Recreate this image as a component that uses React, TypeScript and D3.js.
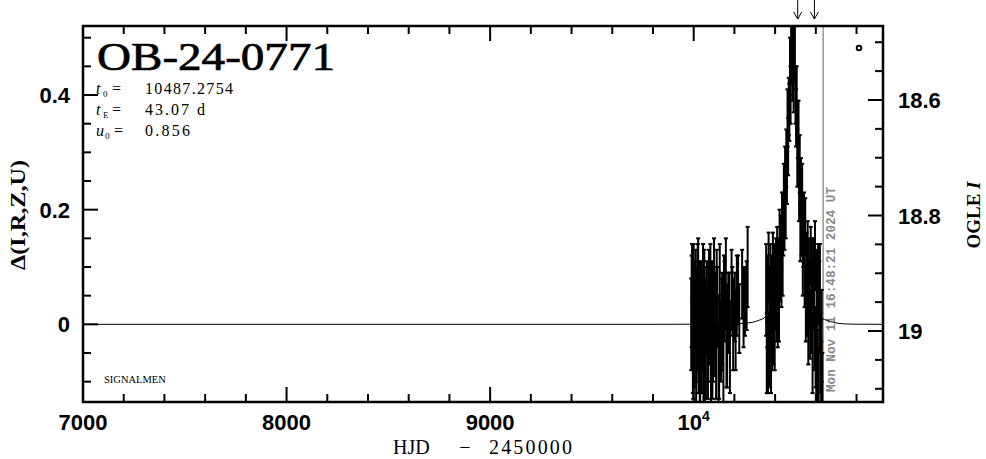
import React from 'react';
import * as d3 from 'd3';

const W = 986;
const H = 459;
const M = { left: 83, right: 883, top: 26, bottom: 402 };

const xDomain = [7000, 10930];
const deltaDomain = [-0.1355, 0.5204];
const magDomain = [19.1229, 18.4719];

const xMajorTicks = [7000, 8000, 9000, 10000];
const xMajorLabels = ['7000', '8000', '9000', '10^4'];
const deltaMajorTicks = [0, 0.2, 0.4];
const deltaMajorLabels = ['0', '0.2', '0.4'];
const magMajorTicks = [18.6, 18.8, 19.0];
const magMajorLabels = ['18.6', '18.8', '19'];

const eventName = 'OB-24-0771';
const t0Value = '10487.2754';
const tEValue = '43.07 d';
const u0Value = '0.856';
const markerTimes = [10511, 10593];
const nowTime = 10636;
const nowLabel = 'Mon Nov 11 16:48:21 2024 UT';

// observations: time (HJD-2450000), delta, error
const obsTime = [
  9988, 9992, 9996, 10000, 10004, 10008, 10012, 10016, 10020, 10024, 10028, 10032, 10036, 10040,
  10044, 10048, 10052, 10056, 10060, 10065, 10070, 10075, 10080, 10085, 10090, 10095, 10100, 10105,
  10110, 10116, 10122, 10128, 10134, 10140, 10146, 10152, 10158, 10164, 10170, 10178, 10186, 10194,
  10202, 10212, 10224, 10238, 10252, 10265,
  9990, 9998, 10002, 10010, 10014, 10022, 10030, 10038, 10046, 10054, 10062, 10072, 10082, 10092,
  10102, 10113, 10125, 10137, 10149, 10161, 10174, 10190, 10206, 10218, 10245, 10260,
  10356, 10359, 10362, 10365, 10368, 10371, 10374, 10377, 10380, 10383, 10386, 10389, 10392, 10395,
  10398, 10401, 10404, 10407, 10410, 10413, 10416, 10419, 10422, 10425, 10428, 10431, 10434, 10437,
  10440, 10443, 10446, 10449, 10452, 10455, 10458, 10461, 10464, 10467, 10470, 10473, 10476, 10479,
  10482, 10485, 10488, 10491, 10494, 10497, 10500, 10503, 10506, 10509, 10512, 10515, 10518, 10521,
  10524, 10527, 10530, 10533, 10536, 10539, 10542, 10545, 10548, 10551, 10554, 10557, 10560, 10563,
  10566, 10569, 10572, 10575, 10578, 10581, 10584, 10587, 10590, 10593, 10596, 10599, 10602, 10605,
  10608, 10611, 10614, 10617, 10620, 10623, 10626, 10629, 10632,
];
const obsDelta = [
  0.0, 0.05, -0.04, 0.07, -0.02, 0.03, -0.07, 0.01, 0.06, -0.05, 0.02, -0.08, 0.04, -0.03,
  0.0, -0.09, 0.05, -0.01, -0.06, 0.03, -0.04, 0.06, 0.01, -0.07, 0.04, -0.02, 0.08, 0.0,
  -0.05, 0.03, -0.08, 0.05, -0.03, 0.01, -0.06, 0.04, 0.07, -0.02, 0.02, -0.04, 0.06, 0.0,
  0.03, 0.05, 0.01, 0.07, 0.04, 0.1,
  0.04, -0.06, 0.02, 0.05, -0.03, 0.07, -0.05, 0.01, 0.06, -0.07, 0.03, -0.02, 0.05, -0.06,
  0.02, 0.06, -0.04, 0.0, 0.05, -0.03, 0.02, 0.04, -0.01, 0.06, 0.03, 0.05,
  0.06, -0.05, 0.04, -0.05, 0.1, -0.03, 0.03, 0.08, -0.05, 0.06, -0.01, 0.1, 0.0, 0.08,
  -0.02, 0.05, 0.1, 0.03, 0.12, 0.02, 0.1, 0.03, 0.15, 0.09, 0.14, 0.08, 0.18, 0.1,
  0.17, 0.23, 0.18, 0.26, 0.2, 0.29, 0.26, 0.36, 0.31, 0.38, 0.37, 0.45, 0.4, 0.48,
  0.47, 0.45, 0.5, 0.43, 0.47, 0.48, 0.4, 0.36, 0.4, 0.29, 0.34, 0.34, 0.23, 0.28,
  0.16, 0.24, 0.17, 0.23, 0.1, 0.15, 0.18, 0.08, 0.17, 0.03, 0.11, 0.04, 0.13, -0.01,
  0.09, 0.05, 0.0, 0.12, 0.01, 0.09, -0.05, 0.05, 0.09, -0.01, 0.12, -0.04, -0.07, 0.06,
  -0.08, 0.07, -0.1, 0.03, 0.05, -0.05, -0.09, -0.02, -0.1,
];
const obsErr = [
  0.08, 0.09, 0.08, 0.07, 0.09, 0.08, 0.07, 0.09, 0.08, 0.07, 0.09, 0.08, 0.07, 0.09,
  0.08, 0.07, 0.08, 0.09, 0.07, 0.08, 0.09, 0.07, 0.08, 0.09, 0.07, 0.08, 0.07, 0.09,
  0.08, 0.07, 0.08, 0.09, 0.07, 0.08, 0.09, 0.07, 0.08, 0.09, 0.07, 0.08, 0.07, 0.08,
  0.06, 0.07, 0.06, 0.06, 0.06, 0.07,
  0.08, 0.07, 0.09, 0.08, 0.07, 0.08, 0.09, 0.07, 0.08, 0.09, 0.07, 0.08, 0.09, 0.07,
  0.08, 0.07, 0.09, 0.08, 0.07, 0.08, 0.07, 0.06, 0.07, 0.06, 0.07, 0.06,
  0.08, 0.07, 0.08, 0.07, 0.06, 0.08, 0.07, 0.06, 0.07, 0.06, 0.07, 0.06, 0.07, 0.06,
  0.06, 0.06, 0.05, 0.06, 0.05, 0.06, 0.05, 0.06, 0.05, 0.05, 0.05, 0.05, 0.05, 0.05,
  0.05, 0.05, 0.05, 0.05, 0.05, 0.05, 0.05, 0.05, 0.05, 0.05, 0.05, 0.05, 0.05, 0.05,
  0.05, 0.06, 0.05, 0.06, 0.05, 0.05, 0.05, 0.05, 0.05, 0.05, 0.05, 0.05, 0.05, 0.05,
  0.05, 0.05, 0.05, 0.05, 0.05, 0.05, 0.05, 0.05, 0.05, 0.06, 0.05, 0.06, 0.05, 0.06,
  0.06, 0.06, 0.06, 0.05, 0.06, 0.06, 0.07, 0.06, 0.06, 0.07, 0.06, 0.07, 0.07, 0.07,
  0.07, 0.07, 0.06, 0.08, 0.09, 0.07, 0.06, 0.08, 0.05,
];

// model curve
const modelTime = [
  7000, 9800, 10100, 10187, 10237, 10287, 10317, 10347, 10367, 10377, 10387, 10397, 10407, 10412,
  10417, 10427, 10432, 10437, 10442, 10447, 10452, 10457, 10462, 10467, 10472, 10477, 10482, 10487.3,
  10492, 10497, 10502, 10507, 10512, 10517, 10522, 10527, 10532, 10537, 10542, 10547, 10557, 10562,
  10567, 10577, 10587, 10597, 10607, 10627, 10657, 10687, 10737, 10787, 10930,
];
const modelDelta = [
  0, 0, 0.0003, 0.0008, 0.0017, 0.0034, 0.0066, 0.0115, 0.019, 0.024, 0.032, 0.042, 0.055, 0.066,
  0.077, 0.106, 0.125, 0.147, 0.173, 0.203, 0.238, 0.277, 0.318, 0.361, 0.401, 0.436, 0.459, 0.468,
  0.459, 0.436, 0.401, 0.361, 0.318, 0.277, 0.238, 0.203, 0.173, 0.147, 0.125, 0.106, 0.077, 0.066,
  0.055, 0.042, 0.032, 0.024, 0.019, 0.0115, 0.0066, 0.0034, 0.0008, 0.0003, 0,
];

const SERIF = "'Liberation Serif', 'DejaVu Serif', serif";
const SANS = "'Liberation Sans', Arial, sans-serif";

export default function App() {
  const x = d3.scaleLinear().domain(xDomain).range([M.left, M.right]);
  const yD = d3.scaleLinear().domain(deltaDomain).range([M.bottom, M.top]);
  const yM = d3.scaleLinear().domain(magDomain).range([M.bottom, M.top]);

  const xMinor = d3.range(7000, 10930, 200).filter((v) => !xMajorTicks.includes(v));
  const dMinor = d3
    .range(-2, 11)
    .filter((i) => i % 4 !== 0)
    .map((i) => i * 0.05);
  const mMinor = d3
    .range(0, 14)
    .filter((i) => i % 4 !== 2)
    .map((i) => 18.5 + i * 0.05)
    .filter((v) => v > magDomain[1] && v < magDomain[0]);

  const modelLine = d3
    .line<number>()
    .x((_, i) => x(modelTime[i]))
    .y((d) => yD(d))
    .curve(d3.curveMonotoneX);

  const majorLen = 15;
  const minorLen = 8;
  const tickW = 2;

  return (
    <svg
      width={W}
      height={H}
      viewBox={`0 0 ${W} ${H}`}
      style={{ position: 'absolute', left: 0, top: 0, background: '#fff' }}
    >
      <rect x={0} y={0} width={W} height={H} fill="#fff" />
      <defs>
        <clipPath id="plotClip">
          <rect x={M.left} y={M.top} width={M.right - M.left} height={M.bottom - M.top} />
        </clipPath>
      </defs>

      {/* now line */}
      <line x1={x(nowTime)} x2={x(nowTime)} y1={M.top} y2={M.bottom} stroke="#888" strokeWidth={1.3} />
      <text
        transform={`translate(${x(nowTime) + 12},${M.bottom - 10}) rotate(-90)`}
        fontFamily="'Liberation Mono', 'DejaVu Sans Mono', monospace"
        fontWeight="bold"
        fontSize={12.5}
        fill="#888"
        textLength={205}
        lengthAdjust="spacingAndGlyphs"
      >
        {nowLabel}
      </text>

      {/* model and data */}
      <g clipPath="url(#plotClip)">
        <path d={modelLine(modelDelta) || ''} fill="none" stroke="#000" strokeWidth={1} />
        {obsTime.map((t, i) => {
          const cx = x(t);
          const y1 = yD(obsDelta[i] + obsErr[i]);
          const y2 = yD(obsDelta[i] - obsErr[i]);
          return (
            <g key={i} stroke="#000" strokeWidth={2}>
              <line x1={cx} x2={cx} y1={y1} y2={y2} />
              <line x1={cx - 2} x2={cx + 2} y1={y1} y2={y1} />
              <line x1={cx - 2} x2={cx + 2} y1={y2} y2={y2} />
            </g>
          );
        })}
      </g>

      {/* frame */}
      <rect
        x={M.left}
        y={M.top}
        width={M.right - M.left}
        height={M.bottom - M.top}
        fill="none"
        stroke="#000"
        strokeWidth={2.5}
      />

      {/* ticks */}
      <g stroke="#000" strokeWidth={tickW}>
        {xMajorTicks.map((v) => (
          <g key={'xm' + v}>
            <line x1={x(v)} x2={x(v)} y1={M.bottom} y2={M.bottom - majorLen} />
            <line x1={x(v)} x2={x(v)} y1={M.top} y2={M.top + majorLen} />
          </g>
        ))}
        {xMinor.map((v) => (
          <g key={'xn' + v}>
            <line x1={x(v)} x2={x(v)} y1={M.bottom} y2={M.bottom - minorLen} />
            <line x1={x(v)} x2={x(v)} y1={M.top} y2={M.top + minorLen} />
          </g>
        ))}
        {deltaMajorTicks.map((v) => (
          <line key={'dm' + v} x1={M.left} x2={M.left + majorLen} y1={yD(v)} y2={yD(v)} />
        ))}
        {dMinor.map((v) => (
          <line key={'dn' + v} x1={M.left} x2={M.left + minorLen} y1={yD(v)} y2={yD(v)} />
        ))}
        {magMajorTicks.map((v) => (
          <line key={'mm' + v} x1={M.right} x2={M.right - majorLen} y1={yM(v)} y2={yM(v)} />
        ))}
        {mMinor.map((v) => (
          <line key={'mn' + v} x1={M.right} x2={M.right - minorLen} y1={yM(v)} y2={yM(v)} />
        ))}
      </g>

      {/* tick labels */}
      <g fontFamily={SANS} fontWeight="bold" fontSize={22} fill="#000">
        {xMajorTicks.map((v, i) => {
          const lab = xMajorLabels[i];
          if (lab.includes('^')) {
            const [b, e] = lab.split('^');
            return (
              <text key={'xl' + v} x={x(v)} y={430} textAnchor="middle">
                {b}
                <tspan fontSize={14} dy={-9}>
                  {e}
                </tspan>
              </text>
            );
          }
          return (
            <text key={'xl' + v} x={x(v)} y={430} textAnchor="middle">
              {lab}
            </text>
          );
        })}
        {deltaMajorTicks.map((v, i) => (
          <text key={'dl' + v} x={70} y={yD(v) + 8} textAnchor="end">
            {deltaMajorLabels[i]}
          </text>
        ))}
        {magMajorTicks.map((v, i) => (
          <text key={'ml' + v} x={898} y={yM(v) + 8} textAnchor="start">
            {magMajorLabels[i]}
          </text>
        ))}
      </g>

      {/* axis titles */}
      <g fontFamily={SERIF} fontSize={20} fill="#000">
        <text x={393} y={454}>HJD</text>
        <text x={465} y={454} textAnchor="middle">−</text>
        <text x={489} y={454} textLength={83} lengthAdjust="spacing">2450000</text>
      </g>
      <text
        transform={`translate(25,215) rotate(-90)`}
        textAnchor="middle"
        fontFamily={SERIF}
        fontWeight="bold"
        fontSize={21}
        textLength={110}
        lengthAdjust="spacingAndGlyphs"
      >
        Δ(I,R,Z,U)
      </text>
      <text transform={`translate(980,215) rotate(-90)`} textAnchor="middle" fontFamily={SERIF} fontWeight="bold" fontSize={19}>
        OGLE <tspan fontStyle="italic">I</tspan>
      </text>

      {/* title and parameters */}
      <text
        x={97}
        y={70}
        fontFamily={SERIF}
        fontSize={40}
        textLength={238}
        lengthAdjust="spacingAndGlyphs"
        stroke="#000"
        strokeWidth={0.7}
      >
        {eventName}
      </text>
      <g fontFamily={SERIF} fontSize={16} fill="#000">
        <text x={96} y={94} fontStyle="italic">t</text>
        <text x={103} y={97} fontSize={9}>0</text>
        <text x={112} y={94}>=</text>
        <text x={145} y={94} textLength={88} lengthAdjust="spacing">{t0Value}</text>

        <text x={96} y={115} fontStyle="italic">t</text>
        <text x={103} y={118} fontSize={9}>E</text>
        <text x={112} y={115}>=</text>
        <text x={145} y={115} textLength={60} lengthAdjust="spacing">{tEValue}</text>

        <text x={96} y={136} fontStyle="italic">u</text>
        <text x={105} y={139} fontSize={9}>0</text>
        <text x={114} y={136}>=</text>
        <text x={145} y={136} textLength={45} lengthAdjust="spacing">{u0Value}</text>
      </g>

      <text x={104} y={383} fontFamily={SERIF} fontSize={10.5}>
        SIGNALMEN
      </text>

      {/* marker arrows */}
      <g stroke="#000" strokeWidth={1} fill="none">
        {markerTimes.map((t) => (
          <g key={'a' + t}>
            <line x1={x(t)} x2={x(t)} y1={0} y2={19} />
            <polyline points={`${x(t) - 4},12 ${x(t)},19 ${x(t) + 4},12`} />
          </g>
        ))}
      </g>

      <circle cx={859} cy={48} r={2.3} fill="#fff" stroke="#000" strokeWidth={2} />
    </svg>
  );
}
